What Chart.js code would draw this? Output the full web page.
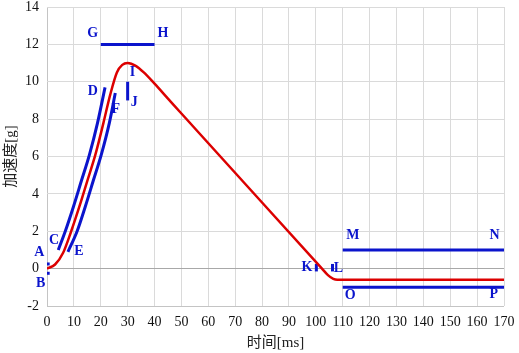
<!DOCTYPE html>
<html>
<head>
<meta charset="utf-8">
<script src="https://cdn.jsdelivr.net/npm/chart.js@4.4.1/dist/chart.umd.min.js"></script>
<style>
  html, body { margin: 0; padding: 0; background: #fff; }
  #wrap { width: 519px; height: 353px; }
</style>
</head>
<body>
<div id="wrap"><canvas id="grafico"></canvas></div>
<script>
// 加速度曲线 (红) 与走廊边界 (蓝)
const redCurve = [[0,0],[3,0.22],[6,0.85],[9,2.0],[12,3.3],[15,4.7],[18,6.1],[21,7.8],[23.5,9.3],[26,10.5],[28,10.9],[30,11],[33,10.85],[36,10.5],[40,9.9],[45,9.1],[50,8.3],[102.3,0],[104.5,-0.35],[106.5,-0.55],[108,-0.6],[170,-0.6]];
const lineCD = [[4.2,1.0],[6.8,2.0],[9.8,3.3],[12.8,4.7],[15.8,6.1],[18.8,7.8],[21.6,9.7]];
const lineEF = [[7.8,0.9],[11.2,2.0],[14.2,3.3],[17.2,4.7],[20.2,6.1],[23.2,7.8],[25.4,9.4]];
const lineGH = [[20,12],[40,12]];
const lineIJ = [[30,9],[30,10]];
const lineMN = [[110,1],[170,1]];
const lineOP = [[110,-1],[170,-1]];
const markA = [[0,0.25],[1,0.25]];
const markB = [[0,-0.25],[1,-0.25]];
const markK = [[100.2,-0.15],[100.2,0.25]];
const markL = [[106.2,-0.15],[106.2,0.25]];

const letterText = ['A','B','C','D','E','F','G','H','I','J','K','L','M','N','O','P'];
const letterX = [-2.9,-2.4,2.6,17.0,11.9,25.6,17.0,43.1,31.8,32.5,96.7,108.4,113.8,166.5,112.8,166.2];
const letterY = [0.87,-0.79,1.53,9.46,0.9,8.53,12.58,12.58,10.48,8.89,0.07,0.02,1.8,1.8,-1.41,-1.36];

const xTicks = [0,10,20,30,40,50,60,70,80,90,100,110,120,130,140,150,160,170];
const yTicks = [-2,0,2,4,6,8,10,12,14];

const AZUL = '#0b14cc';
const ROJO = '#dc0000';

const toPts = arr => arr.map(p => ({x: p[0], y: p[1]}));

function azul(pts, curva) {
    return {
        data: toPts(pts),
        borderColor: AZUL,
        borderWidth: 3,
        pointRadius: 0,
        showLine: true,
        fill: false,
        clip: false,
        cubicInterpolationMode: curva ? 'monotone' : 'default',
        borderCapStyle: 'butt'
    };
}

const letras = {
    id: 'letras',
    afterDatasetsDraw(chart) {
        const ctx = chart.ctx;
        const xs = chart.scales.x, ys = chart.scales.y;
        ctx.save();
        ctx.fillStyle = AZUL;
        ctx.font = 'bold 14px "Liberation Serif", "DejaVu Serif", serif';
        ctx.textAlign = 'center';
        ctx.textBaseline = 'middle';
        letterText.forEach((t, i) => {
            ctx.fillText(t, xs.getPixelForValue(letterX[i]), ys.getPixelForValue(letterY[i]));
        });
        ctx.restore();
    }
};

const tickFont = { family: '"Liberation Serif", "DejaVu Serif", serif', size: 14 };
const titleFont = { family: '"Liberation Serif", "Noto Sans CJK SC", serif', size: 15 };

new Chart(document.getElementById('grafico').getContext('2d'), {
    type: 'scatter',
    data: {
        datasets: [
            {
                data: toPts(redCurve),
                borderColor: ROJO,
                borderWidth: 2.5,
                pointRadius: 0,
                showLine: true,
                fill: false,
                cubicInterpolationMode: 'monotone'
            },
            azul(lineCD, true),
            azul(lineEF, true),
            azul(lineGH),
            azul(lineIJ),
            azul(lineMN),
            azul(lineOP),
            azul(markA),
            azul(markB),
            azul(markK),
            azul(markL)
        ]
    },
    options: {
        responsive: true,
        maintainAspectRatio: false,
        animation: false,
        layout: { padding: { top: 7, right: 15, left: 0, bottom: 0 } },
        plugins: {
            legend: { display: false },
            tooltip: { enabled: false }
        },
        scales: {
            x: {
                type: 'linear',
                min: 0,
                max: 170,
                afterBuildTicks: s => { s.ticks = xTicks.map(v => ({ value: v })); },
                afterFit: s => { s.height = 47; s.paddingLeft = 0; s.paddingRight = 0; },
                grid: {
                    color: c => c.tick.value === 0 ? '#c4c4c4' : '#dadada',
                    lineWidth: 1,
                    drawTicks: false
                },
                border: { display: false },
                ticks: { color: '#111', font: tickFont, padding: 8, maxRotation: 0, autoSkip: false },
                title: { display: true, text: '时间[ms]', color: '#222', font: titleFont, padding: { top: 0, bottom: 1 } }
            },
            y: {
                type: 'linear',
                min: -2,
                max: 14,
                afterBuildTicks: s => { s.ticks = yTicks.map(v => ({ value: v })); },
                afterFit: s => { s.width = 47; s.paddingTop = 0; s.paddingBottom = 0; },
                grid: {
                    color: c => c.tick.value === 0 ? '#a8a8a8' : (c.tick.value === -2 ? '#c4c4c4' : '#dadada'),
                    lineWidth: 1,
                    drawTicks: false
                },
                border: { display: false },
                ticks: { color: '#111', font: tickFont, padding: 8, autoSkip: false },
                title: { display: true, text: '加速度[g]', color: '#222', font: titleFont, padding: { top: 2, bottom: 0 } }
            }
        }
    },
    plugins: [letras]
});
</script>
</body>
</html>
